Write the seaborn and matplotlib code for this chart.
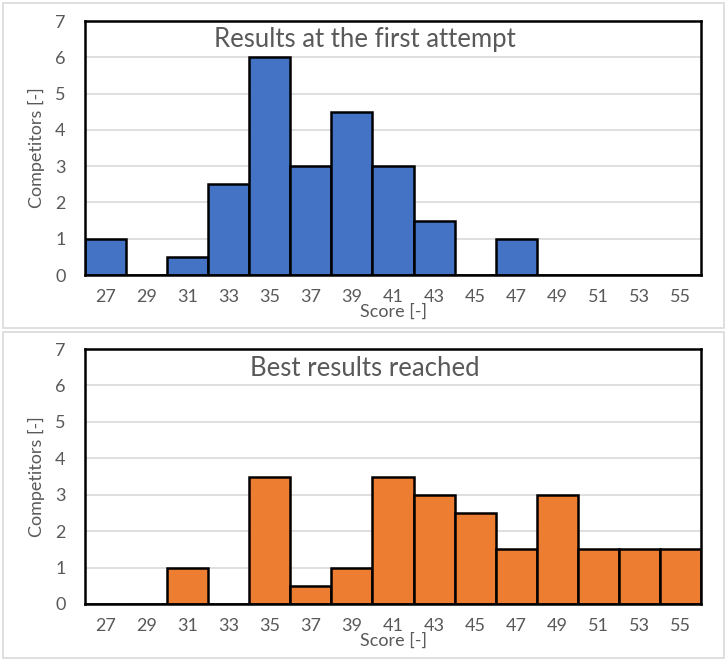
import matplotlib.pyplot as plt
import matplotlib.patches as mpatches
import pandas as pd
import seaborn as sns

scores = ["27", "29", "31", "33", "35", "37", "39", "41", "43", "45", "47", "49", "51", "53", "55"]
first_attempt = [1, 0, 0.5, 2.5, 6, 3, 4.5, 3, 1.5, 0, 1, 0, 0, 0, 0]
best_results = [0, 0, 1, 0, 3.5, 0.5, 1, 3.5, 3, 2.5, 1.5, 3, 1.5, 1.5, 1.5]

titles = ["Results at the first attempt", "Best results reached"]
colors = ["#4472C4", "#ED7D31"]

sns.set_theme(style="white")
plt.rcParams["font.family"] = ["Lato", "DejaVu Sans"]

text_color = "#595959"
fig = plt.figure(figsize=(7.27, 6.62), dpi=100)

W, H = 727, 662
panels = [
    {"values": first_attempt, "box": (3, 3, 721, 325), "plot": (85, 21, 701, 275), "title_y": 40},
    {"values": best_results, "box": (3, 332, 721, 326), "plot": (85, 349, 701, 604), "title_y": 368},
]

for panel, title, color in zip(panels, titles, colors):
    bx, by, bw, bh = panel["box"]
    fig.patches.append(
        mpatches.Rectangle(
            (bx / W, 1 - (by + bh) / H), bw / W, bh / H,
            transform=fig.transFigure, fill=False, edgecolor="#D9D9D9", linewidth=1.2,
        )
    )
    x0, y0, x1, y1 = panel["plot"]
    ax = fig.add_axes([x0 / W, 1 - y1 / H, (x1 - x0) / W, (y1 - y0) / H])

    frame = pd.DataFrame({"score": scores, "count": panel["values"]})
    sns.barplot(
        data=frame, x="score", y="count", color=color, width=1.0,
        edgecolor="black", linewidth=1.8, saturation=1, ax=ax, zorder=3,
    )
    ax.set_xlim(-0.5, len(scores) - 0.5)
    ax.set_ylim(0, 7)
    ax.set_yticks(range(8))
    ax.yaxis.grid(True, color="#D9D9D9", linewidth=1.2, zorder=0)
    ax.set_axisbelow(True)
    for spine in ax.spines.values():
        spine.set_visible(True)
        spine.set_color("black")
        spine.set_linewidth(1.8)
        spine.set_zorder(4)
    ax.tick_params(axis="both", length=0, labelsize=13, labelcolor=text_color)
    ax.tick_params(axis="x", pad=10)
    ax.tick_params(axis="y", pad=14)
    ax.set_xlabel("Score [-]", fontsize=13, color=text_color, labelpad=-1)
    ax.set_ylabel("Competitors [-]", fontsize=13, color=text_color, labelpad=7)

    fig.text(365 / W, 1 - panel["title_y"] / H, title, ha="center", va="center",
             fontsize=18.5, color=text_color)

fig.savefig("out.png", dpi=100)
